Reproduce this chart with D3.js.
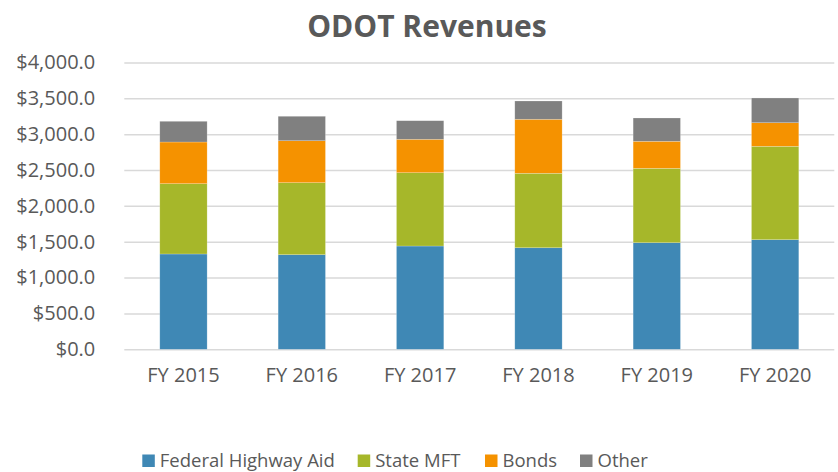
<!DOCTYPE html>
<html>
<head>
<meta charset="utf-8">
<script src="https://cdn.jsdelivr.net/npm/d3@7"></script>
<style>
  body { margin: 0; background: #fff; }
  svg { font-family: "Open Sans", sans-serif; }
</style>
</head>
<body>
<svg id="chart" width="838" height="472"></svg>
<script>
// chart data
const years = ["FY 2015", "FY 2016", "FY 2017", "FY 2018", "FY 2019", "FY 2020"];
const seriesNames = ["Federal Highway Aid", "State MFT", "Bonds", "Other"];
const federalAid = [1329, 1319, 1440, 1416, 1486, 1528];
const stateMft = [980, 1004, 1022, 1038, 1037, 1302];
const bonds = [581, 585, 466, 753, 377, 329];
const other = [289, 341, 259, 255, 325, 345];
const yTicks = [0, 500, 1000, 1500, 2000, 2500, 3000, 3500, 4000];
const colors = ["#3f88b5", "#a6b72a", "#f59200", "#808080"];

const svg = d3.select("#chart");
const textColor = "#595959";

// build rows for the stack layout
const rows = years.map((y, i) => ({
    year: y,
    "Federal Highway Aid": federalAid[i],
    "State MFT": stateMft[i],
    "Bonds": bonds[i],
    "Other": other[i]
}));
const stacked = d3.stack().keys(seriesNames)(rows);

const x = d3.scaleBand().domain(years).range([124.3, 834.3]).paddingInner(0.6).paddingOuter(0.3);
const y = d3.scaleLinear().domain([0, 4000]).range([349.3, 62.4]);
const color = d3.scaleOrdinal().domain(seriesNames).range(colors);

// title
svg.append("text")
    .attr("x", 427).attr("y", 37)
    .attr("text-anchor", "middle")
    .attr("font-size", 30).attr("font-weight", "bold")
    .attr("fill", textColor)
    .text("ODOT Revenues");

// gridlines + y labels
const yAxis = svg.append("g")
    .attr("transform", "translate(124.3,0)")
    .call(d3.axisLeft(y).tickValues(yTicks)
        .tickSize(-710).tickPadding(29)
        .tickFormat(d => "$" + d3.format(",.1f")(d)));
yAxis.select(".domain").remove();
yAxis.selectAll(".tick line").attr("stroke", "#d9d9d9").attr("stroke-width", 1.5);
yAxis.selectAll(".tick text")
    .attr("font-size", 20).attr("fill", textColor)
    .attr("font-family", "Open Sans, sans-serif");

// stacked bars
svg.append("g").selectAll("g")
    .data(stacked)
    .join("g")
    .attr("fill", d => color(d.key))
    .selectAll("rect")
    .data(d => d)
    .join("rect")
    .attr("x", d => x(d.data.year))
    .attr("width", x.bandwidth())
    .attr("y", d => y(d[1]))
    .attr("height", d => y(d[0]) - y(d[1]))
    .attr("stroke", "#ffffff").attr("stroke-opacity", 0.35).attr("stroke-width", 0.6);

// x labels
const xAxis = svg.append("g")
    .attr("transform", "translate(0,349.3)")
    .call(d3.axisBottom(x).tickSize(0).tickPadding(19));
xAxis.select(".domain").remove();
xAxis.selectAll(".tick text")
    .attr("font-size", 20).attr("fill", textColor)
    .attr("font-family", "Open Sans, sans-serif");

// legend
const legendX = [142.3, 357.7, 485, 580];
const legend = svg.append("g").selectAll("g")
    .data(seriesNames)
    .join("g")
    .attr("transform", (d, i) => `translate(${legendX[i]},0)`);
legend.append("rect")
    .attr("x", 0).attr("y", 454.5)
    .attr("width", 12.5).attr("height", 12.5)
    .attr("fill", d => color(d));
legend.append("text")
    .attr("x", 17.5).attr("y", 466.5)
    .attr("font-size", 18.5).attr("fill", textColor)
    .text(d => d);
</script>
</body>
</html>
